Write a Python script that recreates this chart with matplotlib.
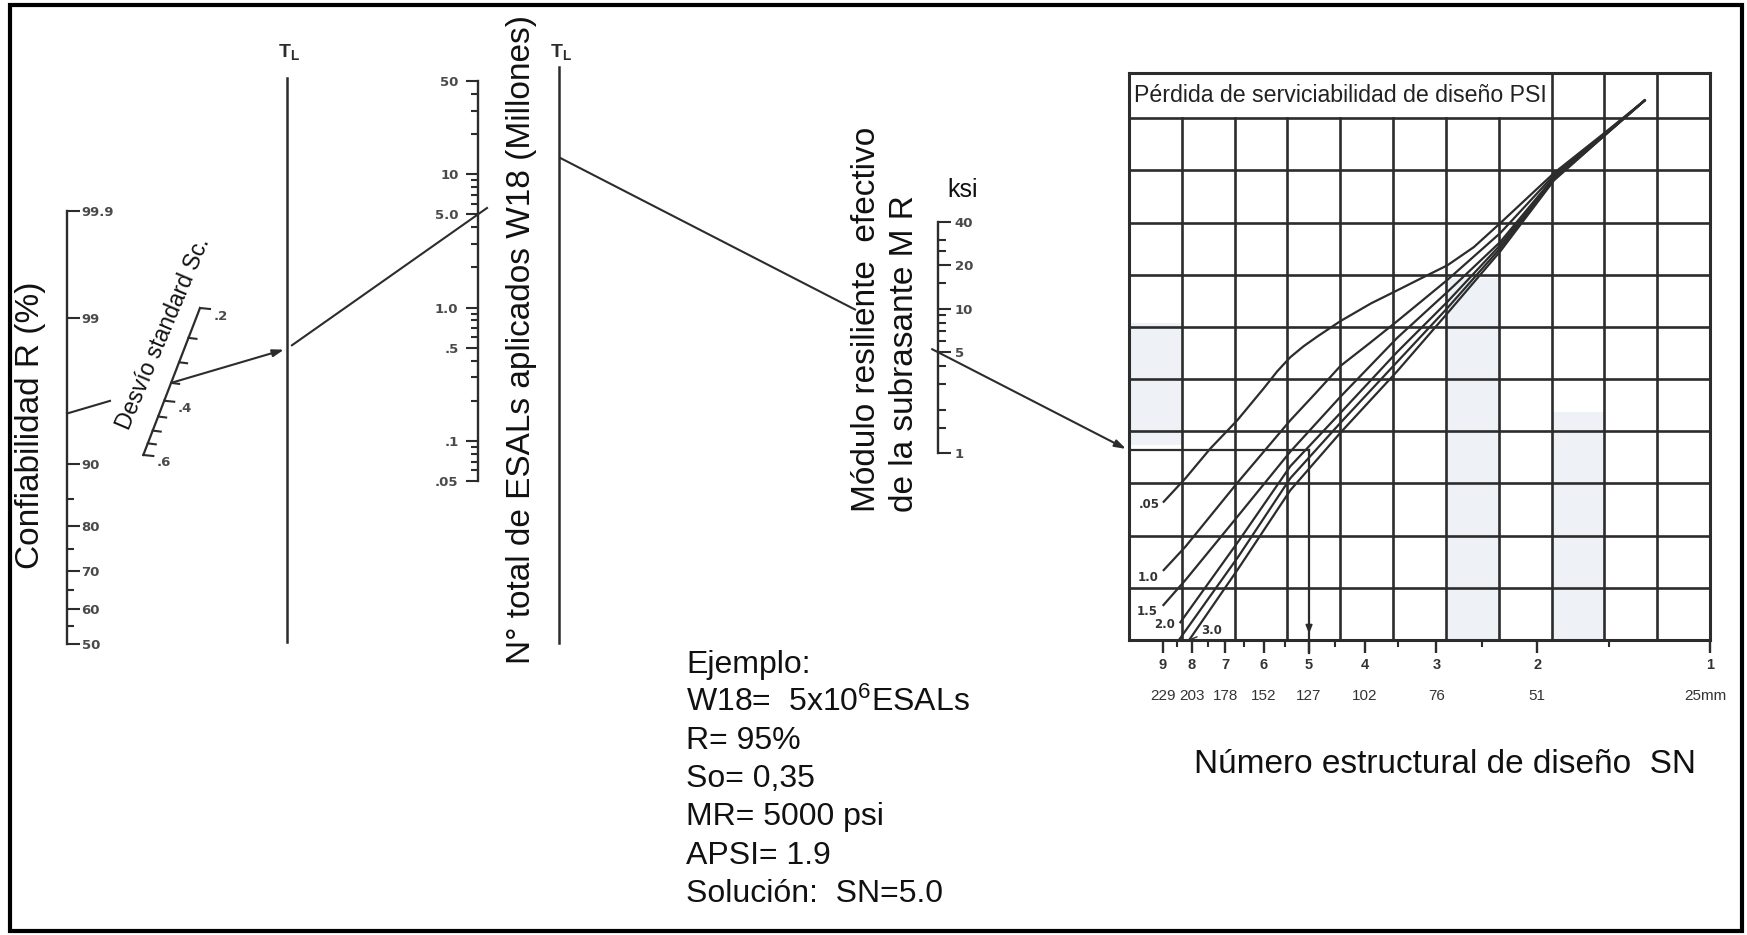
import numpy as np
import matplotlib
matplotlib.use("Agg")
import matplotlib.pyplot as plt
from matplotlib.ticker import NullFormatter
from matplotlib.patches import Rectangle
from statistics import NormalDist

plt.rcParams['font.family'] = ['Liberation Sans', 'DejaVu Sans']
plt.rcParams['mathtext.fontset'] = 'custom'
plt.rcParams['mathtext.rm'] = 'Liberation Sans'
plt.rcParams['mathtext.it'] = 'Liberation Sans:italic'
plt.rcParams['mathtext.bf'] = 'Liberation Sans:bold'

# ---------------------------------------------------------------- data
R_MAJOR = [50, 60, 70, 80, 90, 99, 99.9]
R_MAJOR_LABELS = ['50', '60', '70', '80', '90', '99', '99.9']
R_MINOR = [55, 65, 75, 85]

S0_TICKS = [0.2, 0.25, 0.3, 0.35, 0.4, 0.45, 0.5, 0.55, 0.6]
S0_LABELED = [0.2, 0.4, 0.6]
S0_LABELS = ['.2', '.4', '.6']

W18_LIMITS = [0.05, 50]
W18_MAJOR = [0.05, 0.1, 0.5, 1.0, 5.0, 10, 50]
W18_MAJOR_LABELS = ['.05', '.1', '.5', '1.0', '5.0', '10', '50']
W18_MINOR = [0.06, 0.07, 0.08, 0.09, 0.2, 0.3, 0.4, 0.6, 0.7, 0.8, 0.9,
             2, 3, 4, 6, 7, 8, 9, 20, 30, 40]

MR_LIMITS = [1, 40]
MR_MAJOR = [1, 5, 10, 20, 40]
MR_MAJOR_LABELS = ['1', '5', '10', '20', '40']
MR_MINOR = [1.5, 2, 3, 4, 6, 7, 8, 9, 15, 25, 30]

SN_LIMITS = [10.3, 1.0]
SN_MAJOR = [1, 2, 3, 4, 5, 6, 7, 8, 9]
SN_MINOR = [1.5, 2.5, 3.5, 4.5, 5.5, 6.5, 7.5, 8.5]
SN_MM = ['25mm', '51', '76', '102', '127', '152', '178', '203', '229']

GRID_ROWS = 10
GRID_COLS = 11
GRID_YMAX = 10.86

PSI_LABELS = ['.05', '1.0', '1.5', '2.0', '', '3.0']
PSI_SN = [
    [8.96, 8.21, 7.43, 6.67, 5.99, 5.68, 5.39, 5.11, 4.83, 4.41, 3.90, 3.51, 3.19, 2.87, 2.58, 2.32, 1.87, 1.53, 1.30],
    [8.96, 8.21, 6.67, 5.39, 4.87, 4.41, 3.94, 3.51, 2.87, 2.32, 1.87, 1.53, 1.30],
    [8.97, 8.21, 6.67, 5.39, 4.41, 3.51, 2.87, 2.32, 1.87, 1.53, 1.30],
    [8.38, 6.63, 5.39, 4.41, 3.51, 2.87, 2.32, 1.87, 1.53, 1.30],
    [8.43, 6.63, 5.39, 4.41, 3.51, 2.87, 2.32, 1.87, 1.53, 1.30],
    [8.09, 6.63, 5.39, 4.41, 3.51, 2.87, 2.32, 1.87, 1.53, 1.30],
]
PSI_ROW = [
    [2.65, 3.10, 3.67, 4.21, 4.83, 5.15, 5.42, 5.63, 5.82, 6.11, 6.45, 6.70, 6.93, 7.18, 7.53, 7.99, 8.95, 9.71, 10.34],
    [1.34, 1.79, 3.01, 4.21, 4.73, 5.25, 5.67, 6.11, 6.90, 7.80, 8.91, 9.69, 10.34],
    [0.67, 1.15, 2.36, 3.61, 4.66, 5.79, 6.67, 7.63, 8.87, 9.67, 10.34],
    [0.34, 1.90, 3.33, 4.35, 5.52, 6.48, 7.57, 8.85, 9.67, 10.34],
    [0.00, 1.61, 3.10, 4.16, 5.33, 6.36, 7.51, 8.83, 9.66, 10.34],
    [0.00, 1.38, 2.87, 3.97, 5.15, 6.26, 7.45, 8.81, 9.66, 10.34],
]
PSI_LABEL_OFFSETS = [(-4, -3), (-5, -7), (-6, -6), (-5, -2), (0, 0), (12, 9)]

EX_R = 95
EX_S0 = 0.35
EX_W18 = 5.0
EX_MR = 5.0
EX_SN = 5.0

EXAMPLE_LINES = ['Ejemplo:', 'W18=  5x10$^{6}$ESALs', 'R= 95%', 'So= 0,35',
                 'MR= 5000 psi', 'APSI= 1.9', 'Solución:  SN=5.0']

# ---------------------------------------------------------------- layout (pixels)
W, H = 1747, 935
LC = '#2c2c2c'
NC = '#4a4a4a'
R_AX = (67, 211, 644)
S0_TOP = (200.0, 308.0)
S0_BOT = (143.3, 455.0)
TL1_X, TL1_Y = 287, (78, 642)
W_AX = (478, 81, 481)
TL2_X, TL2_Y = 559, (67, 643)
M_AX = (938, 222, 453)
GRID = (1129, 73.3, 1710, 640)

fig = plt.figure(figsize=(W / 100, H / 100), dpi=100)
fig.patch.set_facecolor('white')
ax0 = fig.add_axes([0, 0, 1, 1])
ax0.set_xlim(0, W)
ax0.set_ylim(H, 0)
ax0.axis('off')


def add_box(x0, y0, x1, y1):
    return fig.add_axes([x0 / W, 1 - y1 / H, (x1 - x0) / W, (y1 - y0) / H])


def ov(ax, x, y):
    d = ax.transData.transform((x, y))
    return ax0.transData.inverted().transform(d)


def style_scale(ax, side):
    for s in ['top', 'bottom', 'left', 'right']:
        ax.spines[s].set_visible(s == side)
    ax.spines[side].set_linewidth(1.7)
    ax.spines[side].set_color(LC)
    ax.set_xticks([])
    ax.set_xlim(0, 1)
    ax.patch.set_visible(False)
    if side == 'right':
        ax.yaxis.tick_right()
    else:
        ax.yaxis.tick_left()


lab_kw = dict(fontfamily='DejaVu Sans', fontweight='bold', fontsize=9.5, color=NC)

# ---- R scale (normal probability)
nd = NormalDist()


def z(r):
    return nd.inv_cdf(r / 100.0)


axR = add_box(R_AX[0] - 1, R_AX[1], R_AX[0], R_AX[2])
style_scale(axR, 'right')
axR.set_ylim(z(R_MAJOR[0]), z(R_MAJOR[-1]))
axR.set_yticks([z(r) for r in R_MAJOR], labels=R_MAJOR_LABELS, **lab_kw)
axR.set_yticks([z(r) for r in R_MINOR], minor=True)
axR.tick_params(axis='y', which='major', length=9, width=1.5, color=LC, pad=1.5)
axR.tick_params(axis='y', which='minor', length=5, width=1.5, color=LC)

# ---- W18 scale (log)
axW = add_box(W_AX[0], W_AX[1], W_AX[0] + 1, W_AX[2])
style_scale(axW, 'left')
axW.set_yscale('log')
axW.set_ylim(*W18_LIMITS)
axW.set_yticks(W18_MAJOR, labels=W18_MAJOR_LABELS, **lab_kw)
axW.set_yticks(W18_MINOR, minor=True)
axW.yaxis.set_minor_formatter(NullFormatter())
axW.tick_params(axis='y', which='major', length=9, width=1.5, color=LC, pad=5)
axW.tick_params(axis='y', which='minor', length=5, width=1.5, color=LC)

# ---- MR scale (log)
axM = add_box(M_AX[0] - 1, M_AX[1], M_AX[0], M_AX[2])
style_scale(axM, 'right')
axM.set_yscale('log')
axM.set_ylim(*MR_LIMITS)
axM.set_yticks(MR_MAJOR, labels=MR_MAJOR_LABELS, **lab_kw)
axM.set_yticks(MR_MINOR, minor=True)
axM.yaxis.set_minor_formatter(NullFormatter())
axM.tick_params(axis='y', which='major', length=9, width=1.5, color=LC, pad=3)
axM.tick_params(axis='y', which='minor', length=6, width=1.5, color=LC)

# ---- right design chart
axG = add_box(*GRID)
axG.set_xscale('log')
axG.set_xlim(*SN_LIMITS)
axG.set_ylim(0, GRID_YMAX)
axG.patch.set_visible(False)
for s in axG.spines.values():
    s.set_linewidth(2.2)
    s.set_color(LC)
axG.set_yticks([])
axG.set_xticks(SN_MAJOR, labels=[str(v) for v in SN_MAJOR],
               fontweight='bold', fontsize=10.5, color='#333333')
axG.set_xticks(SN_MINOR, minor=True)
axG.xaxis.set_minor_formatter(NullFormatter())
axG.tick_params(axis='x', which='major', length=9, width=1.7, color=LC, pad=4)
axG.tick_params(axis='x', which='minor', length=5, width=1.5, color=LC)

# faint shading
for (xa, xb, ya, yb) in [(6, 7, 0, 6.93), (8, 9, 0, 4.37), (0, 1, 3.73, 6.07)]:
    axG.add_patch(Rectangle((xa / GRID_COLS, ya / GRID_YMAX), (xb - xa) / GRID_COLS,
                            (yb - ya) / GRID_YMAX, transform=axG.transAxes,
                            facecolor='#eef2f7', edgecolor='none', zorder=0))
for i in range(1, GRID_COLS):
    top = 1.0 if i >= 8 else GRID_ROWS / GRID_YMAX
    axG.plot([i / GRID_COLS] * 2, [0, top], transform=axG.transAxes,
             color=LC, lw=1.9, zorder=1)
for r in range(1, GRID_ROWS + 1):
    axG.axhline(r, color=LC, lw=1.9, zorder=1)
axG.text(0.009, (GRID[3] - 96) / (GRID[3] - GRID[1]),
         'Pérdida de serviciabilidad de diseño PSI', transform=axG.transAxes,
         ha='left', va='center', fontsize=16.7, color='#222222')

for lbl, sns, rows, off in zip(PSI_LABELS, PSI_SN, PSI_ROW, PSI_LABEL_OFFSETS):
    axG.plot(sns, rows, color=LC, lw=1.6, zorder=3, clip_on=False,
             solid_joinstyle='round')
    if not lbl:
        continue
    if off[0] > 0:
        axG.annotate(lbl, xy=(sns[0], rows[0]), xytext=off, textcoords='offset pixels',
                     ha='left', va='center', fontfamily='DejaVu Sans', fontweight='bold',
                     fontsize=8.5, color='#333333',
                     arrowprops=dict(arrowstyle='-', color=LC, lw=1.0, shrinkA=1, shrinkB=1))
    else:
        axG.annotate(lbl, xy=(sns[0], rows[0]), xytext=off, textcoords='offset pixels',
                     ha='right', va='center', fontfamily='DejaVu Sans', fontweight='bold',
                     fontsize=8.5, color='#333333')

for sn, lbl in zip(SN_MAJOR, SN_MM):
    x = ov(axG, sn, 0)[0]
    if lbl.endswith('mm'):
        x -= 5
    ax0.text(x, 696, lbl, ha='center', va='center', fontsize=11, color='#333333')

# ---------------------------------------------------------------- nomograph lines


def s0_point(s):
    t = (np.log10(s) - np.log10(S0_TICKS[0])) / (np.log10(S0_TICKS[-1]) - np.log10(S0_TICKS[0]))
    return np.array([S0_TOP[0] + t * (S0_BOT[0] - S0_TOP[0]),
                     S0_TOP[1] + t * (S0_BOT[1] - S0_TOP[1])])


def line_at(p, q, x):
    return np.array([x, p[1] + (q[1] - p[1]) * (x - p[0]) / (q[0] - p[0])])


# Sc scale
ax0.plot([S0_TOP[0], S0_BOT[0]], [S0_TOP[1], S0_BOT[1]], color=LC, lw=1.6)
for s in S0_TICKS:
    p = s0_point(s)
    L = 10 if s in S0_LABELED else 8
    ax0.plot([p[0], p[0] + L], [p[1], p[1] + 1], color=LC, lw=1.5)
for s, lbl in zip(S0_LABELED, S0_LABELS):
    p = s0_point(s)
    ax0.text(p[0] + 21, p[1] + 8, lbl, ha='center', va='center', **lab_kw)
ax0.text(163, 333, 'Desvío standard Sc.', rotation=67, rotation_mode='anchor',
         ha='center', va='center', fontsize=16.5, color='#111111')

# turning lines
for x, (y0, y1) in [(TL1_X, TL1_Y), (TL2_X, TL2_Y)]:
    ax0.plot([x, x], [y0, y1], color=LC, lw=1.8)
    ax0.text(x + 2, 52, r'$\mathbf{T}_{\mathbf{L}}$', ha='center', va='center',
             fontsize=14, color=LC)

# example path
P_R = ov(axR, 1, z(EX_R))
P_S = s0_point(EX_S0)
P_T1 = line_at(P_R, P_S, TL1_X)
P_W = ov(axW, 0, EX_W18)
P_T2 = line_at(P_T1, P_W, TL2_X)
P_M = ov(axM, 1, EX_MR)
grid_left = ov(axG, SN_LIMITS[0], 0)[0]
P_G = line_at(P_T2, P_M, grid_left)

lk = dict(color=LC, lw=1.5)
a = line_at(P_R, P_S, 110)
ax0.plot([P_R[0], a[0]], [P_R[1], a[1]], **lk)
arrow = dict(arrowstyle='-|>,head_length=0.55,head_width=0.18', color=LC, lw=1.5,
             shrinkA=0, shrinkB=0, mutation_scale=12)
ax0.annotate('', xy=line_at(P_R, P_S, TL1_X - 3), xytext=P_S, arrowprops=arrow)
b0 = line_at(P_T1, P_W, TL1_X + 5)
b1 = line_at(P_T1, P_W, P_W[0] + 9)
ax0.plot([b0[0], b1[0]], [b0[1], b1[1]], **lk)
c0 = line_at(P_T2, P_M, TL2_X + 1)
c1 = line_at(P_T2, P_M, 855)
ax0.plot([c0[0], c1[0]], [c0[1], c1[1]], **lk)
d0 = line_at(P_T2, P_M, 932)
ax0.annotate('', xy=line_at(P_T2, P_M, grid_left - 3), xytext=d0, arrowprops=arrow)

row_ex = axG.transData.inverted().transform(ax0.transData.transform(P_G))[1]
axG.plot([SN_LIMITS[0], EX_SN], [row_ex, row_ex], color=LC, lw=1.6, zorder=4)
axG.plot([EX_SN, EX_SN], [row_ex, -0.25], color=LC, lw=1.6, zorder=4, clip_on=False)
axG.annotate('', xy=(EX_SN, 0.12), xytext=(EX_SN, 0.45),
             arrowprops=dict(arrowstyle='-|>,head_length=0.5,head_width=0.2',
                             color=LC, lw=1.2, mutation_scale=10, shrinkA=0, shrinkB=0))

# ---------------------------------------------------------------- titles & text
ax0.text(31, 425, 'Confiabilidad R (%)', rotation=90, ha='center', va='center',
         fontsize=24, color='#111111')
ax0.text(522, 340, 'N° total de ESALs aplicados W18 (Millones)', rotation=90,
         ha='center', va='center', fontsize=24, color='#111111')
ax0.text(867, 512, 'Módulo resiliente  efectivo', rotation=90, rotation_mode='anchor',
         ha='left', va='center', fontsize=24, color='#111111')
ax0.text(905, 512, 'de la subrasante M R', rotation=90, rotation_mode='anchor',
         ha='left', va='center', fontsize=24, color='#111111')
ax0.text(963, 190, 'ksi', ha='center', va='center', fontsize=18, color='#111111')
ax0.text(1445, 773, 'Número estructural de diseño  SN', ha='center', va='baseline',
         fontsize=24, color='#111111')

EX_X, EX_Y0, EX_DY = 686, 673, 38.1
for i, line in enumerate(EXAMPLE_LINES):
    ax0.text(EX_X, EX_Y0 + i * EX_DY, line, ha='left', va='baseline',
             fontsize=23, color='#111111')

ax0.add_patch(Rectangle((10, 5), 1732, 926, fill=False, lw=3, ec='black'))

fig.savefig('out.png', dpi=100, facecolor='white')
